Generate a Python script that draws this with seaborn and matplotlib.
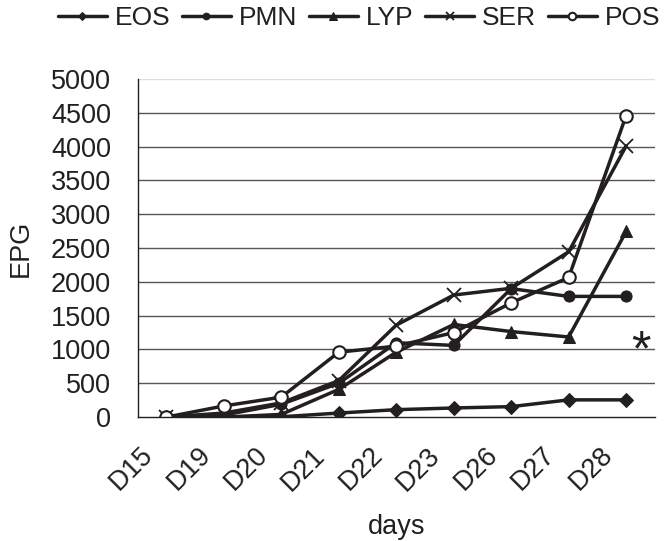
import matplotlib
matplotlib.use("Agg")
import matplotlib.pyplot as plt
import numpy as np
import pandas as pd
import seaborn as sns

days = ["D15", "D19", "D20", "D21", "D22", "D23", "D26", "D27", "D28"]
eos = [0, 5, 5, 60, 110, 135, 155, 255, 255]
pmn = [0, 30, 190, 500, 1100, 1060, 1900, 1785, 1785]
lyp = [0, 0, 40, 410, 960, 1370, 1265, 1185, 2745]
ser = [0, 60, 210, 540, 1360, 1805, 1905, 2445, 4010]
pos = [0, 165, 295, 960, 1050, 1250, 1690, 2065, 4460]

series = {"EOS": eos, "PMN": pmn, "LYP": lyp, "SER": ser, "POS": pos}
marker_style = {
    "EOS": dict(marker="D", markersize=7, markerfacecolor="#231f20"),
    "PMN": dict(marker="o", markersize=8, markerfacecolor="#231f20"),
    "LYP": dict(marker="^", markersize=9, markerfacecolor="#231f20"),
    "SER": dict(marker="x", markersize=10, markeredgewidth=1.3),
    "POS": dict(marker="o", markersize=9, markerfacecolor="white", markeredgewidth=1.5),
}

sns.set_style("white")
plt.rcParams["font.family"] = ["Liberation Sans", "DejaVu Sans"]
ink = "#231f20"
fs = 19.5

fig = plt.figure(figsize=(6.71, 5.41), dpi=100)
ax = fig.add_axes([0.205, 0.229, 0.771, 0.625])

df = pd.DataFrame({"day": days})
for name, vals in series.items():
    df[name] = vals
    sns.lineplot(data=df, x="day", y=name, ax=ax, color=ink, linewidth=2.5,
                 markeredgecolor=ink, label=name, **marker_style[name])

ax.set_xlim(-0.5, len(days) - 0.5)
ax.set_ylim(0, 5000)
ax.set_yticks(np.arange(0, 5001, 500))
for v in np.arange(500, 5001, 500):
    ax.axhline(v, color="#dddddd" if v == 5000 else "#555555", linewidth=1.0, zorder=0)

for side in ["top", "right"]:
    ax.spines[side].set_visible(False)
for side in ["left", "bottom"]:
    ax.spines[side].set_color(ink)
    ax.spines[side].set_linewidth(1.0)

# labels sit a little left of the category centre, ticks mark the boundaries
ax.set_xticks(np.arange(len(days)) - 0.46)
ax.set_xticklabels(days, rotation=45, ha="right", rotation_mode="anchor", fontsize=fs, color=ink)
ax.set_xticks(np.arange(-0.5, len(days)), minor=True)
ax.tick_params(axis="x", which="major", length=0, pad=18)
ax.tick_params(axis="x", which="minor", length=8, width=1, color=ink, direction="out")
ax.tick_params(axis="y", length=9, width=1, color=ink, direction="out", labelsize=fs, labelcolor=ink, pad=10)

ax.set_xlabel("days", fontsize=fs, color=ink, labelpad=13)
ax.set_ylabel("EPG", fontsize=fs, color=ink, labelpad=12)

ax.text(8.26, 950, "*", fontsize=36, ha="center", va="center", color=ink)

handles, labels = ax.get_legend_handles_labels()
ax.get_legend().remove()
fig.legend(handles, labels, loc="center", bbox_to_anchor=(0.535, 0.966), ncol=5, frameon=False,
           fontsize=19, handlelength=1.85, handletextpad=0.3, columnspacing=0.45, markerscale=0.6,
           labelcolor=ink)

fig.savefig("out.png", dpi=100)
